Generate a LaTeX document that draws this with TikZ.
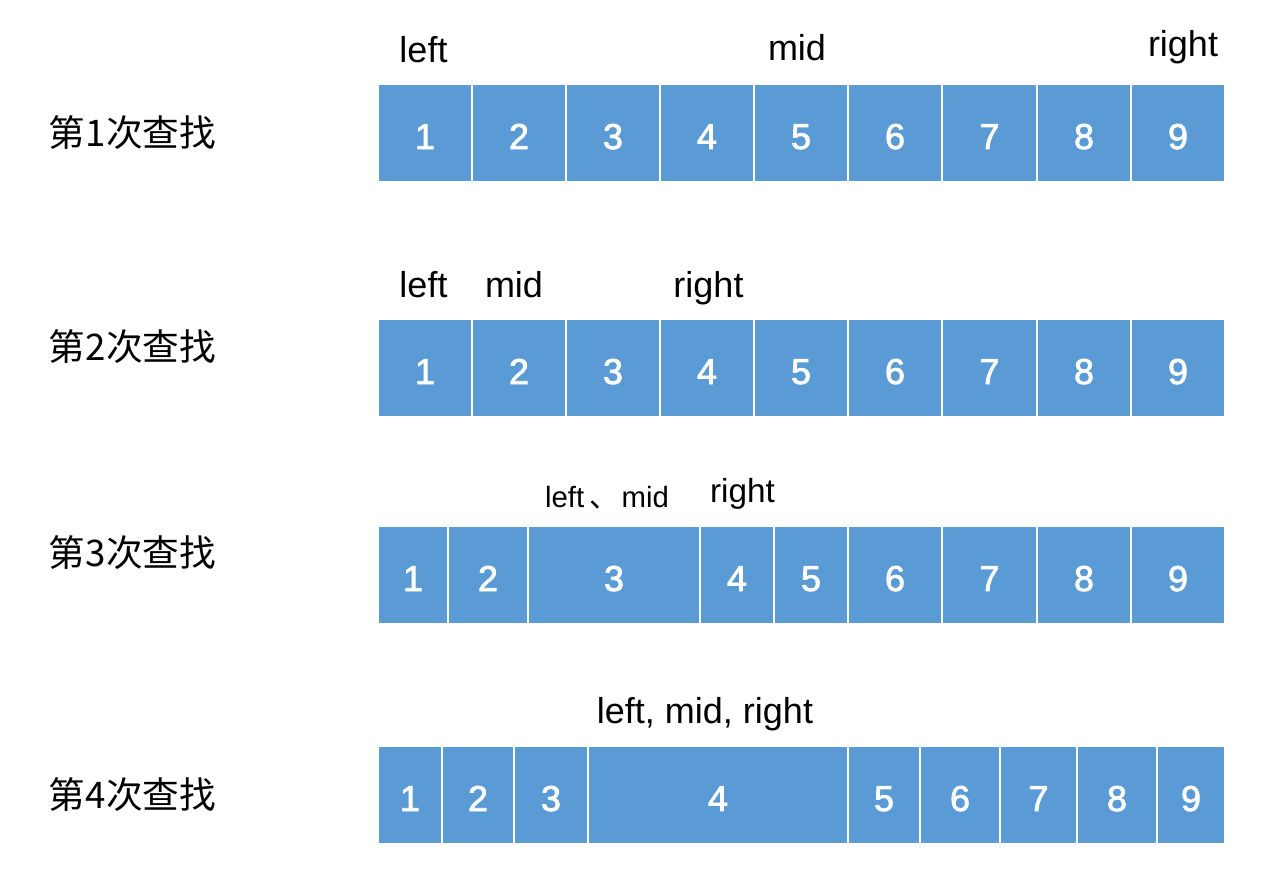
\documentclass[tikz,border=0pt]{standalone}
\usepackage{fontspec}
\setmainfont{Liberation Sans}
\newfontfamily\cjk{Noto Sans CJK SC}
\newfontfamily\cellfont[FakeBold=2]{Liberation Sans}
\definecolor{cellblue}{HTML}{5B9BD5}
\tikzset{
  cell/.style={fill=cellblue, text=white, inner sep=0pt, minimum height=72pt,
    text height=24pt, text depth=0pt, font=\cellfont\fontsize{27}{32}\selectfont},
  ptr/.style={anchor=base, inner sep=0pt, font=\fontsize{27}{32}\selectfont},
  steplabel/.style={inner sep=0pt, font=\cjk\fontsize{27.5}{32}\selectfont},
}
\begin{document}
\begin{tikzpicture}[x=0.75pt,y=-0.75pt]
\useasboundingbox (0,0) rectangle (1288,882);
% Row 1
\node[steplabel] (lab1) at (132.5,133) {第1次查找};
\foreach \a/\b [count=\i] in {378/472,472/566,566/660,660/754,754/848,848/942,942/1037,1037/1131,1131/1225}
  \node[cell, minimum width=\b*0.75pt-\a*0.75pt-1.5pt] (r1c\i) at ({(\a+\b)/2},133) {\i};
\node[ptr] (r1left) at (423.5,62.5) {left};
\node[ptr] (r1mid) at (797,60) {mid};
\node[ptr] (r1right) at (1183,56.5) {right};
% Row 2
\node[steplabel] (lab2) at (132.5,347) {第2次查找};
\foreach \a/\b [count=\i] in {378/472,472/566,566/660,660/754,754/848,848/942,942/1037,1037/1131,1131/1225}
  \node[cell, minimum width=\b*0.75pt-\a*0.75pt-1.5pt] (r2c\i) at ({(\a+\b)/2},368) {\i};
\node[ptr] (r2left) at (423.5,297.5) {left};
\node[ptr] (r2mid) at (514,297.5) {mid};
\node[ptr] (r2right) at (708.5,297.5) {right};
% Row 3
\node[steplabel] (lab3) at (132.5,553) {第3次查找};
\foreach \a/\b [count=\i] in {378/448,448/528,528/700,700/774,774/848,848/942,942/1037,1037/1131,1131/1225}
  \node[cell, minimum width=\b*0.75pt-\a*0.75pt-1.5pt] (r3c\i) at ({(\a+\b)/2},575) {\i};
\node[ptr, font=\fontsize{22}{26}\selectfont] (r3leftmid) at (607,507) {left\hspace{4pt}{\cjk 、}\hspace{2pt}mid};
\node[ptr, font=\fontsize{25}{30}\selectfont] (r3right) at (742.5,502) {right};
% Row 4
\node[steplabel] (lab4) at (132.5,795) {第4次查找};
\foreach \a/\b [count=\i] in {378/442,442/514,514/588,588/848,848/920,920/1000,1000/1077,1077/1157,1157/1225}
  \node[cell, minimum width=\b*0.75pt-\a*0.75pt-1.5pt] (r4c\i) at ({(\a+\b)/2},795) {\i};
\node[ptr] (r4all) at (705,723) {left, mid, right};
\end{tikzpicture}
\end{document}
